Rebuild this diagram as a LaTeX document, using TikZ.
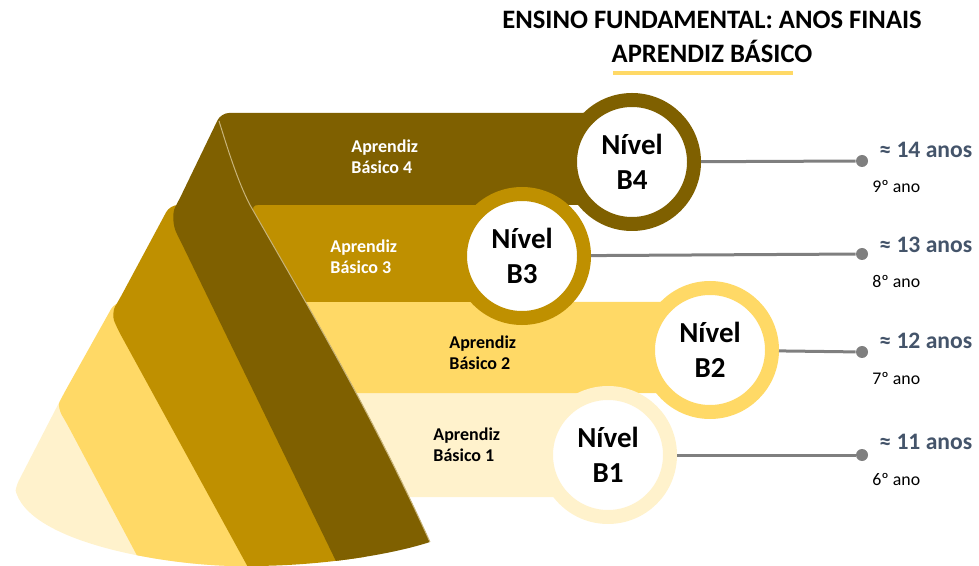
\documentclass[tikz,border=0pt]{standalone}
\usepackage{fontspec}
\setmainfont{Carlito}
\definecolor{ab1}{HTML}{FFF2CC}
\definecolor{ab2}{HTML}{FFD966}
\definecolor{ab3}{HTML}{BF9000}
\definecolor{ab4}{HTML}{7F6000}
\definecolor{brilho}{HTML}{C8B47A}
\definecolor{cinza}{HTML}{7F7F7F}
\definecolor{ardosia}{HTML}{44546A}

\begin{document}
\begin{tikzpicture}[x=0.5pt,y=-0.5pt]
\tikzset{
  nivel/.style={circle,fill=white,draw=#1,line width=7pt,minimum size=62pt,inner sep=0pt,
    align=center,font=\fontsize{14.5}{17.5}\selectfont\bfseries},
  aprendiz/.style={anchor=west,inner sep=0pt,align=left,text=#1,
    font=\fontsize{9}{10.5}\selectfont\bfseries},
  idade/.style={anchor=west,inner sep=0pt,text=ardosia,font=\fontsize{11.8}{13}\selectfont\bfseries},
  ano/.style={anchor=west,inner sep=0pt,font=\fontsize{8.9}{10}\selectfont},
  ponto/.style={circle,fill=cinza,minimum size=6pt,inner sep=0pt},
  ligacao/.style={draw=cinza,line width=1.5pt},
  titulo/.style={font=\fontsize{13.3}{15}\selectfont\bfseries}
}
\useasboundingbox (0,0) rectangle (979,566);

\node[titulo] (tit1) at (712,20) {ENSINO FUNDAMENTAL: ANOS FINAIS};
\node[titulo] (tit2) at (712,51) {APRENDIZ BÁSICO};
\draw[ab2,line width=2pt] (613,73) -- (793,73);

% cone em espiral
\begin{scope}
\clip (0,0) -- (0,488) -- (15,488) .. controls (25,545) and (180,568) .. (250,566)
  .. controls (320,566) and (390,555) .. (430,542) -- (979,542) -- (979,0) -- cycle;
\fill[ab1,rounded corners=4pt] (608,393) -- (64,393) -- (15,488) -- (15,600)
  -- (250,600) -- (250,497) -- (608,497) -- cycle;
\fill[ab2,rounded corners=4pt] (710,302) -- (115,302) -- (63,395)
  .. controls (58,405) and (60,412) .. (66,422) -- (150,580) -- (250,600)
  -- (300,393) -- (710,393) -- cycle;
\fill[ab3,rounded corners=4pt] (522,205) -- (170,205) -- (119,300)
  .. controls (113,310) and (113,318) .. (117,328) -- (255,580) -- (380,600)
  -- (280,302) -- (522,302) -- cycle;
\fill[ab4,rounded corners=4pt] (632,113) -- (221,113) -- (179,200)
  .. controls (172,213) and (173,226) .. (180,240) -- (350,590) -- (445,600)
  -- (430,542) .. controls (370,410) and (310,310) .. (250,205) -- (632,205) -- cycle;
\draw[brilho,line width=0.5pt] (219,121) .. controls (228,150) and (238,182) .. (250,205)
  .. controls (310,310) and (370,410) .. (430,542);
\end{scope}

\node[aprendiz=white] (ab4) at (351,157) {Aprendiz\\Básico 4};
\node[aprendiz=white] (ab3) at (330,257) {Aprendiz\\Básico 3};
\node[aprendiz=black] (ab2) at (449,353) {Aprendiz\\Básico 2};
\node[aprendiz=black] (ab1) at (433,445) {Aprendiz\\Básico 1};

\node[nivel=ab1] (b1) at (608,455) {Nível\\B1};
\node[nivel=ab2] (b2) at (710,350) {Nível\\B2};
\node[nivel=ab3] (b3) at (522,256) {Nível\\B3};
\node[nivel=ab4] (b4) at (632,162) {Nível\\B4};

\node[ponto] (d4) at (862,161) {};
\node[ponto] (d3) at (862,254) {};
\node[ponto] (d2) at (862,352) {};
\node[ponto] (d1) at (862,455) {};
\draw[ligacao] (b4) -- (d4);
\draw[ligacao] (b3) -- (d3);
\draw[ligacao] (b2) -- (d2);
\draw[ligacao] (b1) -- (d1);

\node[idade] (i4) at (879,150) {≈ 14 anos};
\node[idade] (i3) at (879,245) {≈ 13 anos};
\node[idade] (i2) at (879,341) {≈ 12 anos};
\node[idade] (i1) at (879,442) {≈ 11 anos};
\node[ano] (a4) at (872,186) {9º ano};
\node[ano] (a3) at (872,281) {8º ano};
\node[ano] (a2) at (872,378) {7º ano};
\node[ano] (a1) at (872,479) {6º ano};
\end{tikzpicture}
\end{document}
